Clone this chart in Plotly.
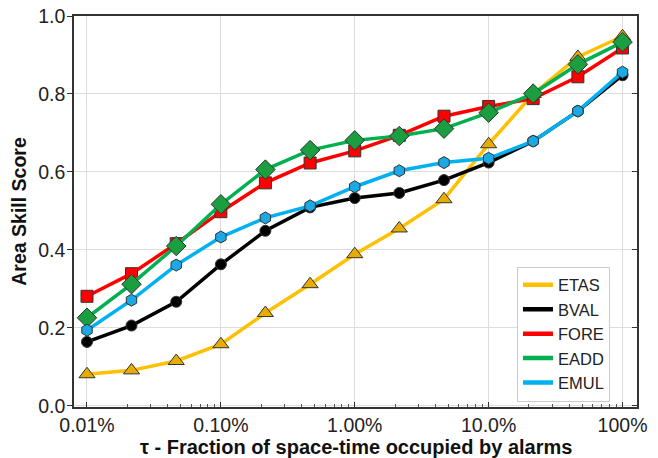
import numpy as np
import plotly.graph_objects as go

# Alarm fraction (percent of space-time), three points per decade
tau_pct = [0.01, 0.0215, 0.0464, 0.1, 0.215, 0.464, 1.0, 2.15, 4.64, 10.0, 21.5, 46.4, 100.0]

etas = [0.081, 0.091, 0.115, 0.158, 0.238, 0.312, 0.389, 0.455, 0.530, 0.671, 0.800, 0.895, 0.948]
bval = [0.164, 0.206, 0.267, 0.363, 0.449, 0.509, 0.533, 0.546, 0.579, 0.624, 0.679, 0.756, 0.848]
fore = [0.281, 0.339, 0.416, 0.498, 0.572, 0.623, 0.654, 0.694, 0.743, 0.768, 0.788, 0.844, 0.918]
eadd = [0.226, 0.312, 0.410, 0.517, 0.606, 0.656, 0.681, 0.692, 0.711, 0.752, 0.801, 0.876, 0.933]
emul = [0.194, 0.271, 0.361, 0.433, 0.482, 0.513, 0.562, 0.603, 0.624, 0.635, 0.679, 0.756, 0.856]

x_tickvals = [0.01, 0.1, 1, 10, 100]
x_ticktext = ["0.01%", "0.10%", "1.00%", "10.0%", "100%"]
y_tickvals = [0.0, 0.2, 0.4, 0.6, 0.8, 1.0]
y_ticktext = ["0.0", "0.2", "0.4", "0.6", "0.8", "1.0"]

x_title = "\u03c4 - Fraction of space-time occupied by alarms"
y_title = "Area Skill Score"

series = [
    ("ETAS", etas, "#FFC000", "#E6AC00", "triangle-up", 14),
    ("BVAL", bval, "#000000", "#000000", "circle", 11),
    ("FORE", fore, "#FF0000", "#FF0000", "square", 12),
    ("EADD", eadd, "#00B050", "#1A9E3F", "diamond", 15),
    ("EMUL", emul, "#00B0F0", "#1BA9E6", "hexagon", 12),
]

fig = go.Figure()
for name, vals, lc, mc, sym, ms in series:
    fig.add_trace(go.Scatter(
        x=tau_pct, y=vals, name=name, mode="lines+markers", showlegend=False,
        line=dict(color=lc, width=3.5),
        marker=dict(symbol=sym, size=ms, color=mc,
                    line=dict(color="#333333", width=1)),
    ))
# Legend keys drawn as plain line samples
for name, vals, lc, mc, sym, ms in series:
    fig.add_trace(go.Scatter(
        x=[None], y=[None], name=name, mode="lines",
        line=dict(color=lc, width=4.5), showlegend=True,
    ))

# Right-hand axis carrying only inward tick marks
fig.add_trace(go.Scatter(x=[None], y=[None], yaxis="y2", showlegend=False))

minor_x = [m * 10.0 ** e for e in range(-2, 2) for m in range(2, 10)]
y_range = [-0.003, 1.0]

fig.update_layout(
    width=658, height=458,
    margin=dict(l=74, r=21, t=16, b=51),
    paper_bgcolor="white", plot_bgcolor="white",
    font=dict(family="Liberation Sans, Arial, sans-serif", size=19.5, color="#222222"),
    legend=dict(
        x=0.952, y=0.014, xanchor="right", yanchor="bottom",
        bgcolor="white", bordercolor="#cccccc", borderwidth=1,
        font=dict(size=16.5), tracegroupgap=0,
    ),
    yaxis2=dict(
        overlaying="y", side="right", range=y_range,
        tickmode="array", tickvals=y_tickvals, showticklabels=False,
        ticks="inside", ticklen=5, tickcolor="#333333",
        showgrid=False, showline=False, zeroline=False,
    ),
)

# x-axis title placed as an annotation below the tick labels
fig.add_annotation(
    text="<b>" + x_title + "</b>", xref="paper", yref="paper",
    x=0.5, y=0, xanchor="center", yanchor="top", yshift=-27,
    showarrow=False, font=dict(size=20, color="#111111"),
)

fig.update_xaxes(
    type="log", range=[np.log10(0.01) - 0.097, np.log10(100) + 0.108],
    tickmode="array", tickvals=x_tickvals, ticktext=x_ticktext,
    ticks="inside", ticklen=5, tickcolor="#333333",
    showgrid=True, gridcolor="#dddddd", gridwidth=1,
    showline=True, linecolor="#333333", linewidth=1.5, mirror=True,
    minor=dict(tickmode="array", tickvals=minor_x, ticks="inside",
               ticklen=3, tickcolor="#555555", showgrid=False),
    zeroline=False, automargin=False,
)
fig.update_yaxes(
    selector=dict(overlaying=None),
    range=y_range,
    tickmode="array", tickvals=y_tickvals, ticktext=y_ticktext,
    ticks="outside", ticklen=5, tickcolor="#333333", ticklabelstandoff=-2,
    showgrid=True, gridcolor="#dddddd", gridwidth=1,
    showline=True, linecolor="#333333", linewidth=1.5, mirror=True,
    title=dict(text="<b>" + y_title + "</b>",
               font=dict(size=19.5, color="#111111"), standoff=6),
    zeroline=False, automargin=False,
)

fig.write_html("out.html")
